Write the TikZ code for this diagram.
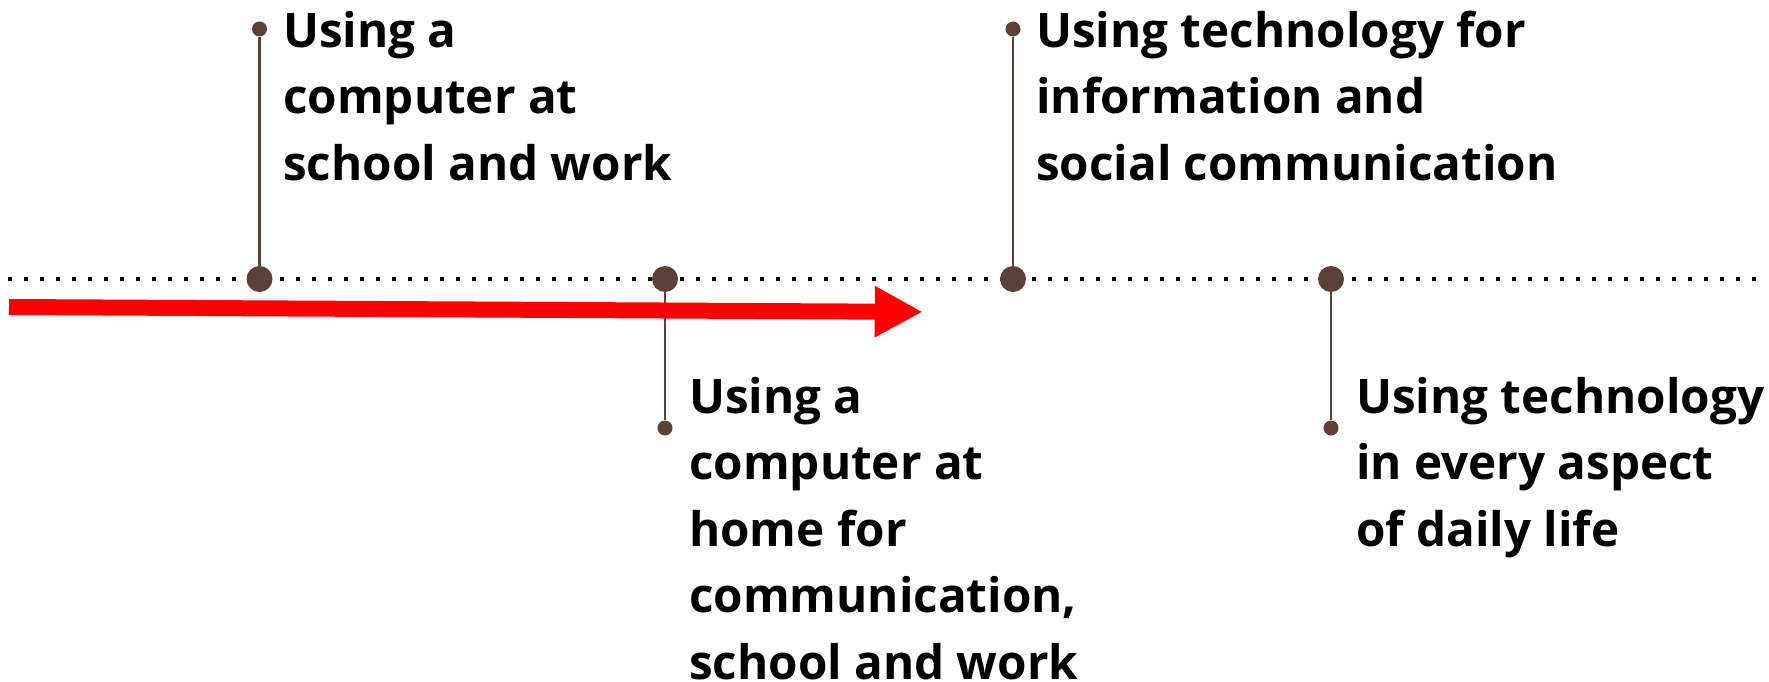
\documentclass[tikz,border=0pt]{standalone}
\usepackage{fontspec}
\setmainfont{Open Sans}
\usetikzlibrary{arrows.meta}
\definecolor{brn}{RGB}{93,64,55}
\definecolor{arrred}{RGB}{255,0,0}
\begin{document}
\begin{tikzpicture}[x=1pt,y=-1pt,
  big/.style={circle,fill=brn,inner sep=0pt,minimum size=26pt},
  small/.style={circle,fill=brn,inner sep=0pt,minimum size=15pt},
  stem/.style={draw=brn,line width=2.8pt},
  axis/.style={draw=black,line width=4pt,dash pattern=on 4pt off 12pt},
  lbl/.style={anchor=base west,align=left,inner sep=0pt,text=black,
    font=\fontsize{47.6}{66.5}\selectfont\bfseries}]
\useasboundingbox (0,0) rectangle (1769,682);
% timeline
\coordinate (dl) at (8,279);
\coordinate (dr) at (1758,279);
\draw[axis] (dl) -- (dr);
% markers
\node[big] (b1) at (259.5,279) {};
\node[big] (b2) at (665,279) {};
\node[big] (b3) at (1013,279) {};
\node[big] (b4) at (1331,279) {};
\node[small] (s1) at (259.5,29) {};
\node[small] (s2) at (665,428) {};
\node[small] (s3) at (1013,29) {};
\node[small] (s4) at (1331,428) {};
\draw[stem] (s1) -- (b1);
\draw[stem] (b2) -- (s2);
\draw[stem] (s3) -- (b3);
\draw[stem] (b4) -- (s4);
% labels (anchored at the baseline of their last line)
\node[lbl] (t1) at (283,180) {Using a\\computer at\\school and work};
\node[lbl] (t2) at (689,679) {Using a\\computer at\\home for\\communication,\\school and work};
\node[lbl] (t3) at (1036,180) {Using technology for\\information and\\social communication};
\node[lbl] (t4) at (1356,546) {Using technology\\in every aspect\\of daily life};
% red arrow
\coordinate (al) at (9,307);
\coordinate (ar) at (922.7,311.9);
\draw[arrred,line width=16pt,-{Triangle[length=48pt,width=48pt]}] (al) -- (ar);
\end{tikzpicture}
\end{document}
